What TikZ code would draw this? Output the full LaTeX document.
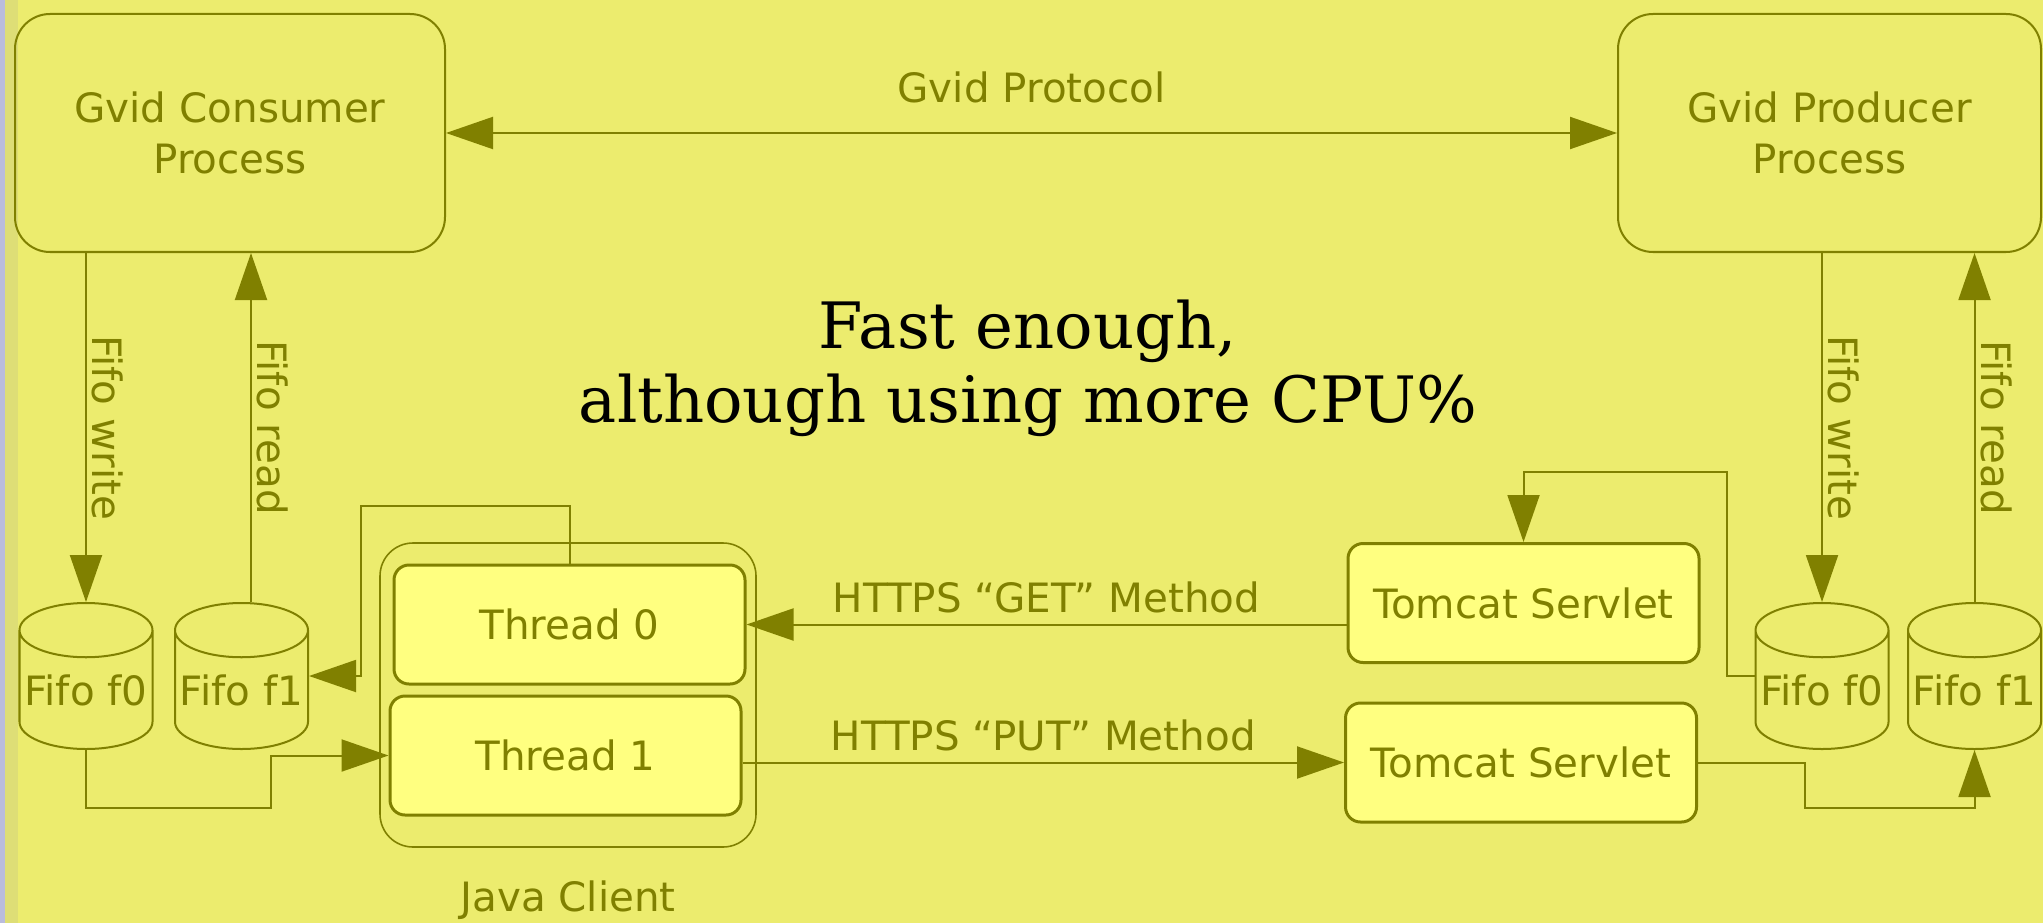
\documentclass[tikz,border=0pt]{standalone}
\usepackage{fontspec}
\setmainfont{DejaVu Sans}
\newfontfamily\notefont{DejaVu Serif}
\usetikzlibrary{arrows.meta,shapes.geometric,positioning}

\definecolor{bgyellow}{RGB}{236,236,110}
\definecolor{gvolive}{RGB}{128,128,0}
\definecolor{threadfill}{RGB}{255,255,128}
\definecolor{edgeblue}{RGB}{186,188,220}
\definecolor{edgepale}{RGB}{222,222,118}

\tikzset{
    process/.style={draw,rounded corners=3.5mm,align=center,minimum width=43mm,minimum height=23.8mm},
    worker/.style={draw,fill=threadfill,rounded corners=1.5mm,line width=0.85pt,minimum width=35.1mm,minimum height=11.9mm},
    fifo/.style={draw,cylinder,shape border rotate=90,aspect=0.44,minimum width=13.3mm,minimum height=14.6mm,inner sep=0pt,anchor=shape center},
    rlabel/.style={rotate=-90,anchor=south,inner sep=0.5mm},
    hlabel/.style={above,inner sep=1mm},
}

\begin{document}
\begin{tikzpicture}[x=0.1mm,y=-0.1mm,>={Triangle[length=4.7mm,width=3.2mm]},line width=0.57pt,color=gvolive,font=\fontsize{11.5}{14.5}\selectfont]
    \useasboundingbox (0,0) rectangle (2043,923);
    \fill[bgyellow] (0,0) rectangle (2043,923);
    \fill[edgepale] (5,0) rectangle (18,923);
    \fill[edgeblue] (0,0) rectangle (5,923);

    % processes at both ends
    \node[process] (cons) at (230,133) {Gvid Consumer\\Process};
    \node[process,minimum width=42.3mm] (prod) at (1829.5,133) {Gvid Producer\\Process};

    % fifos
    \node[fifo] (cf0) at (86,676) {Fifo f0};
    \node[fifo] (cf1) at (241.5,676) {Fifo f1};
    \node[fifo] (pf0) at (1822,676) {Fifo f0};
    \node[fifo] (pf1) at (1974.5,676) {Fifo f1};

    % java client with its two threads
    \node[draw,rounded corners=3.3mm,line width=0.45pt,minimum width=37.6mm,minimum height=30.4mm] (client) at (568,695) {};
    \node[worker] (t0) at (569.5,624.5) {Thread 0};
    \node[worker] (t1) at (565.5,755.5) {Thread 1};
    \node[below=2mm of client] (clientname) {Java Client};

    \node[worker] (sv0) at (1523.5,603) {Tomcat Servlet};
    \node[worker] (sv1) at (1521,762.5) {Tomcat Servlet};

    \node[font=\notefont\fontsize{18.2}{21}\selectfont,align=center,text=black] (note) at (1028,368) {Fast enough,\\although using more CPU\%};

    \coordinate (rd) at ([xshift=0.95mm]cf1.top);
    \coordinate (bendA) at (361,506);
    \coordinate (bendB) at (271,808);
    \coordinate (bendC) at (1727,472);
    \coordinate (bendD) at (1805,808);

    \draw[<->] (cons.east) -- node[hlabel,above=1.9mm] {Gvid Protocol} (prod.west);

    \draw[->] (cons.south -| cf0.top) -- node[rlabel] {Fifo write} (cf0.top);
    \draw[->] (rd) -- node[rlabel] {Fifo read} (rd |- cons.south);
    \draw[->] (prod.south -| pf0.top) -- node[rlabel] {Fifo write} (pf0.top);
    \draw[->] (pf1.top) -- node[rlabel] {Fifo read} (pf1.top |- prod.south);

    \draw[->] (t0.north) |- (bendA) |- (cf1.shape center -| cf1.east);
    \draw[->] (cf0.bottom) |- (bendB) |- (t1.west);
    \draw[->] (pf0.shape center -| pf0.west) -| (bendC) -| (sv0.north);
    \draw[->] (sv1.east) -| (bendD) -| (pf1.bottom);

    \draw[->] (t0.east -| sv0.west) -- node[hlabel] {HTTPS “GET” Method} (t0.east);
    \draw[->] (t1.east |- sv1.west) -- node[hlabel] {HTTPS “PUT” Method} (sv1.west);
\end{tikzpicture}
\end{document}
